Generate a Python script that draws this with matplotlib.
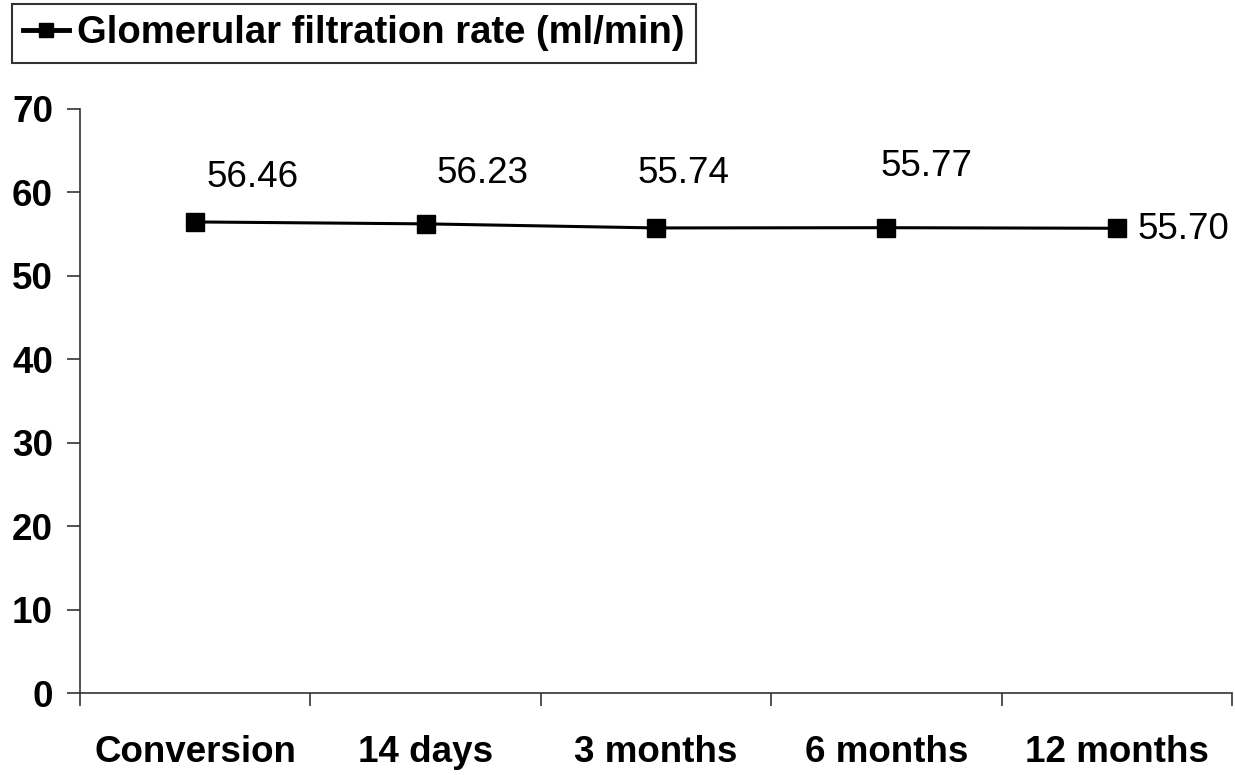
import matplotlib
matplotlib.use("Agg")
import matplotlib.pyplot as plt
import numpy as np

categories = ["Conversion", "14 days", "3 months", "6 months", "12 months"]
gfr = [56.46, 56.23, 55.74, 55.77, 55.70]
value_labels = ["56.46", "56.23", "55.74", "55.77", "55.70"]
series_name = "Glomerular filtration rate (ml/min)"
yticks = [0, 10, 20, 30, 40, 50, 60, 70]

# label offsets in points (styling)
label_offsets = [(41, 32), (41, 36), (20, 39), (29, 44), (15, -1)]
label_align = ["center", "center", "center", "center", "left"]

plt.rcParams['font.family'] = ['Liberation Sans', 'DejaVu Sans']

fig = plt.figure(figsize=(12.35, 7.75), dpi=100)
ax = fig.add_axes([0.0648, 0.1058, 0.9328, 0.7536])

x = np.arange(len(categories))
line, = ax.plot(x, gfr, color='black', lw=2.2, marker='s', markersize=13,
                markerfacecolor='black', markeredgecolor='black', label=series_name)

for xi, yi, txt, off, ha in zip(x, gfr, value_labels, label_offsets, label_align):
    ax.annotate(txt, (xi, yi), xytext=off, textcoords='offset points',
                ha=ha, va='center', fontsize=26.5, color='black')

ax.set_xlim(-0.5, len(categories) - 0.5)
ax.set_ylim(0, 70)
ax.set_yticks(yticks)
ax.set_yticklabels([str(v) for v in yticks], fontsize=26.5, fontweight='bold')
ax.tick_params(axis='y', direction='out', length=9.5, width=1.2, pad=10, color='#333333')

ax.set_xticks(np.arange(len(categories) + 1) - 0.5)
ax.set_xticklabels([])
ax.tick_params(axis='x', which='major', direction='out', length=9.5, width=1.2, color='#333333')
ax.set_xticks(x, minor=True)
ax.set_xticklabels(categories, minor=True, fontsize=26.5, fontweight='bold')
ax.tick_params(axis='x', which='minor', length=0, pad=30)

for s in ['top', 'right']:
    ax.spines[s].set_visible(False)
for s in ['left', 'bottom']:
    ax.spines[s].set_linewidth(1.2)
    ax.spines[s].set_color('#333333')

leg = fig.legend(handles=[line], loc='upper left', bbox_to_anchor=(0.0097, 0.995),
                 fontsize=27.5, frameon=True, fancybox=False, edgecolor='black',
                 handlelength=1.2, handletextpad=0.2, borderpad=0.3,
                 borderaxespad=0.0, markerscale=0.8)
leg.get_frame().set_linewidth(1.5)
leg.get_lines()[0].set_linewidth(3.5)
for t in leg.get_texts():
    t.set_fontweight('bold')

fig.savefig("out.png", dpi=100)
